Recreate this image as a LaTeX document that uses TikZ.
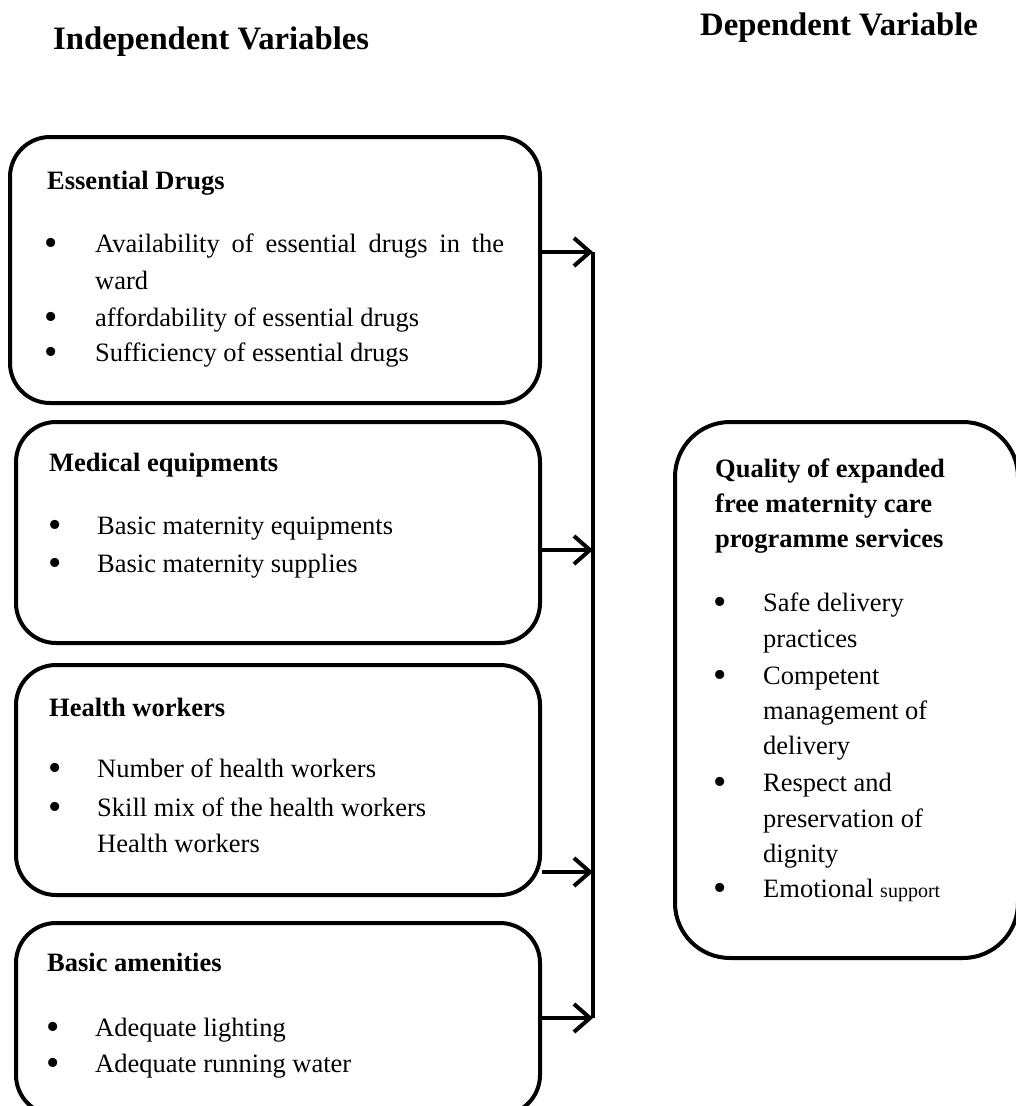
\documentclass[tikz,border=0pt]{standalone}
\usepackage{fontspec}
\setmainfont{Liberation Serif}
\usetikzlibrary{arrows.meta}
\begin{document}
\begin{tikzpicture}[x=1pt,y=-1pt,
  box/.style={draw, line width=4pt, rounded corners=40pt, inner sep=0pt},
  rbox/.style={draw, line width=4pt, rounded corners=55pt, inner sep=0pt},
  txt/.style={anchor=base west, inner sep=0pt, font=\fontsize{26.5}{36}\selectfont},
  hdr/.style={anchor=base west, inner sep=0pt, font=\fontsize{26.5}{36}\selectfont\bfseries},
  ttl/.style={anchor=base west, inner sep=0pt, font=\fontsize{32.7}{38}\selectfont\bfseries},
  bul/.style={anchor=base, inner sep=0pt, yshift=-3pt, font=\fontsize{38}{40}\selectfont},
  arr/.style={line width=4pt, -{Straight Barb[length=16pt,width=28pt]}},
  link/.style={line width=3.8pt}
]
\useasboundingbox (0,0) rectangle (1016,1106);
\clip (0,0) rectangle (1016,1106);

% titles
\node[ttl] (tind) at (53,49) {Independent Variables};
\node[ttl] (tdep) at (700,35) {Dependent Variable};

% boxes
\node[box, minimum width=530pt, minimum height=266pt] (b1) at (275,270) {};
\node[box, minimum width=524pt, minimum height=221pt] (b2) at (278,532.5) {};
\node[box, minimum width=524pt, minimum height=230pt] (b3) at (278,780) {};
\node[box, minimum width=524pt, minimum height=192pt] (b4) at (278,1019) {};
\node[rbox, minimum width=343pt, minimum height=536pt] (r) at (846.5,690) {};

% box 1 text
\node[hdr] (h1) at (47,189) {Essential Drugs};
\node[bul] (d11) at (51,252) {•};
\node[txt] (t11) at (95,252) {\makebox[409pt][s]{Availability of essential drugs in the}};
\node[txt] (t12) at (95,289) {ward};
\node[bul] (d12) at (51,326) {•};
\node[txt] (t13) at (95,326) {affordability of essential drugs};
\node[bul] (d13) at (51,361) {•};
\node[txt] (t14) at (95,361) {Sufficiency of essential drugs};

% box 2 text
\node[hdr] (h2) at (49,471) {Medical equipments};
\node[bul] (d21) at (55,534) {•};
\node[txt] (t21) at (97,534) {Basic maternity equipments};
\node[bul] (d22) at (55,572) {•};
\node[txt] (t22) at (97,572) {Basic maternity supplies};

% box 3 text
\node[hdr] (h3) at (49,716) {Health workers};
\node[bul] (d31) at (55,777) {•};
\node[txt] (t31) at (97,777) {Number of health workers};
\node[bul] (d32) at (55,816) {•};
\node[txt] (t32) at (97,816) {Skill mix of the health workers};
\node[txt] (t33) at (97,852) {Health workers};

% box 4 text
\node[hdr] (h4) at (47,971) {Basic amenities};
\node[bul] (d41) at (53,1036) {•};
\node[txt] (t41) at (95,1036) {Adequate lighting};
\node[bul] (d42) at (53,1072) {•};
\node[txt] (t42) at (95,1072) {Adequate running water};

% right box text
\node[hdr] (rh1) at (715,477) {Quality of expanded};
\node[hdr] (rh2) at (715,512) {free maternity care};
\node[hdr] (rh3) at (715,547) {programme services};
\node[bul] (rd1) at (720,611) {•};
\node[txt] (rt1) at (763,611) {Safe delivery};
\node[txt] (rt2) at (763,647) {practices};
\node[bul] (rd2) at (720,684) {•};
\node[txt] (rt3) at (763,684) {Competent};
\node[txt] (rt4) at (763,719) {management of};
\node[txt] (rt5) at (763,754) {delivery};
\node[bul] (rd3) at (720,791) {•};
\node[txt] (rt6) at (763,791) {Respect and};
\node[txt] (rt7) at (763,827) {preservation of};
\node[txt] (rt8) at (763,862) {dignity};
\node[bul] (rd4) at (720,897) {•};
\node[txt] (rt9) at (763,897) {Emotional {\fontsize{20}{24}\selectfont support}};

% connectors
\coordinate (j1) at (593,252);
\coordinate (j2) at (593,550);
\coordinate (j3) at (593,872);
\coordinate (j4) at (593,1018);
\draw[link] (j1) -- (j4);
\draw[arr] (b1.east |- j1) -- (j1);
\draw[arr] (b2.east |- j2) -- (j2);
\draw[arr] (b3.east |- j3) -- (j3);
\draw[arr] (b4.east |- j4) -- (j4);
\end{tikzpicture}
\end{document}
